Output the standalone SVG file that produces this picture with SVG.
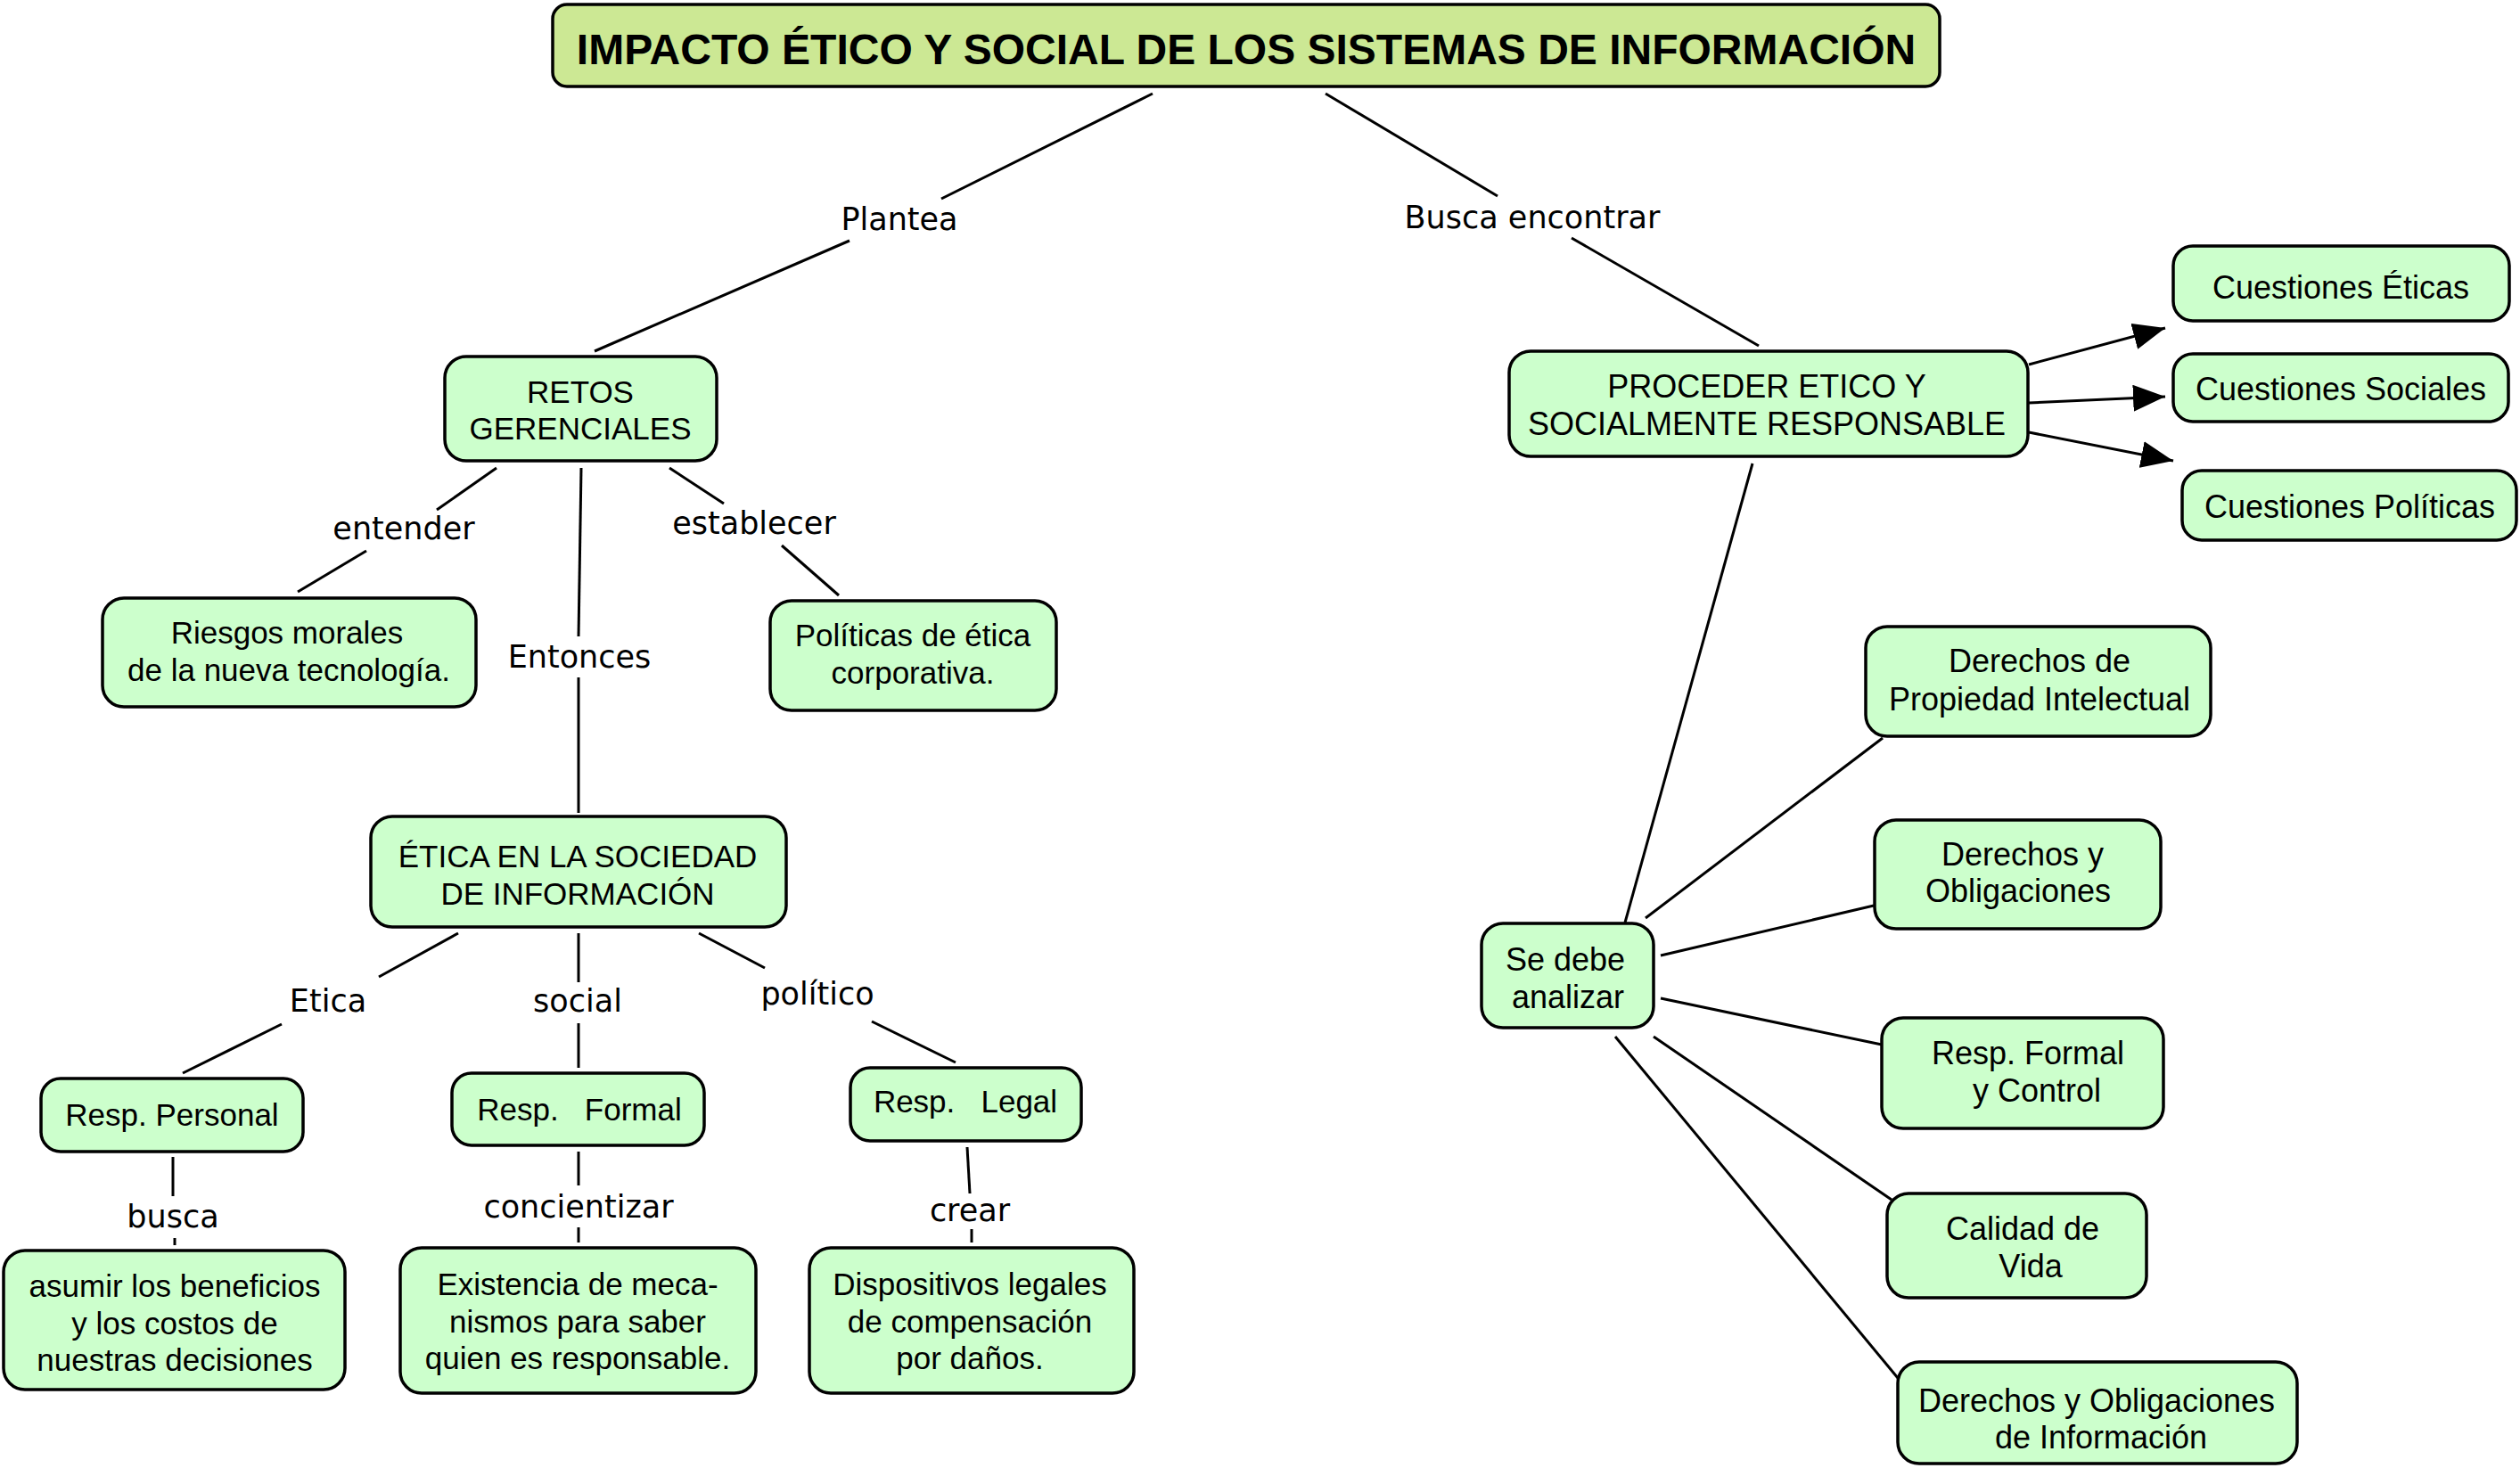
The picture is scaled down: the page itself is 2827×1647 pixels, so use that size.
<svg xmlns="http://www.w3.org/2000/svg" width="2827" height="1647" viewBox="0 0 2827 1647">
<defs>
<style>
.n rect{fill:#ccffcc;stroke:#000;stroke-width:3.5}
.t rect{fill:#cce894;stroke:#000;stroke-width:3.5}
.n text{font-family:"Liberation Sans",Arial,sans-serif;font-size:35px;fill:#000;text-anchor:middle}
.r text{font-size:36px}
.t text{font-family:"Liberation Sans",Arial,sans-serif;font-size:48px;font-weight:bold;fill:#000;text-anchor:middle}
.lbl{font-family:"DejaVu Sans",Verdana,sans-serif;font-size:35px;fill:#000;text-anchor:middle}
#connectors line{stroke:#000;stroke-width:3;fill:none}
</style>
<marker id="ahb" viewBox="0 0 36 30" refX="36" refY="15" markerWidth="36" markerHeight="30" markerUnits="userSpaceOnUse" orient="auto">
<path d="M0,0 L36,15 L0,30 Z" fill="#000"/>
</marker>
</defs>
<rect width="2827" height="1647" fill="#fff"/>
<g id="connectors">
<line x1="1293" y1="105" x2="1056" y2="223"/>
<line x1="953" y1="270" x2="667" y2="394"/>
<line x1="1487" y1="105" x2="1680" y2="220"/>
<line x1="1763" y1="267" x2="1973" y2="388"/>
<line x1="557" y1="525" x2="490" y2="572"/>
<line x1="411" y1="618" x2="334" y2="664"/>
<line x1="652" y1="525" x2="649" y2="714"/>
<line x1="649" y1="760" x2="649" y2="912"/>
<line x1="751" y1="525" x2="812" y2="565"/>
<line x1="877" y1="612" x2="941" y2="668"/>
<line x1="514" y1="1047" x2="425" y2="1096"/>
<line x1="316" y1="1149" x2="205" y2="1204"/>
<line x1="194" y1="1298" x2="194" y2="1342"/>
<line x1="196" y1="1389" x2="196" y2="1397"/>
<line x1="649" y1="1047" x2="649" y2="1102"/>
<line x1="649" y1="1148" x2="649" y2="1198"/>
<line x1="649" y1="1292" x2="649" y2="1330"/>
<line x1="649" y1="1377" x2="649" y2="1394"/>
<line x1="784" y1="1047" x2="858" y2="1086"/>
<line x1="978" y1="1146" x2="1072" y2="1192"/>
<line x1="1085" y1="1287" x2="1088" y2="1339"/>
<line x1="1090" y1="1379" x2="1090" y2="1394"/>
<line x1="2276" y1="409" x2="2429" y2="368" marker-end="url(#ahb)"/>
<line x1="2276" y1="452" x2="2429" y2="445" marker-end="url(#ahb)"/>
<line x1="2276" y1="485" x2="2438" y2="517" marker-end="url(#ahb)"/>
<line x1="1966" y1="520" x2="1823" y2="1035"/>
<line x1="1846" y1="1030" x2="2112" y2="828"/>
<line x1="1863" y1="1072" x2="2102" y2="1016"/>
<line x1="1863" y1="1120" x2="2111" y2="1172"/>
<line x1="1855" y1="1163" x2="2122" y2="1346"/>
<line x1="1812" y1="1163" x2="2129" y2="1546"/>
</g>
<g id="labels">
<text class="lbl" x="1009" y="258">Plantea</text>
<text class="lbl" x="1719" y="256">Busca encontrar</text>
<text class="lbl" x="453" y="605">entender</text>
<text class="lbl" x="650" y="749">Entonces</text>
<text class="lbl" x="846" y="599">establecer</text>
<text class="lbl" x="368" y="1135">Etica</text>
<text class="lbl" x="648" y="1135">social</text>
<text class="lbl" x="917" y="1127">político</text>
<text class="lbl" x="194" y="1377">busca</text>
<text class="lbl" x="649" y="1366">concientizar</text>
<text class="lbl" x="1088" y="1370">crear</text>
</g>
<g id="title" class="t">
<rect x="620" y="5" width="1556" height="92" rx="16"/>
<text x="1398" y="72">IMPACTO ÉTICO Y SOCIAL DE LOS SISTEMAS DE INFORMACIÓN</text>
</g>
<g id="retos" class="n">
<rect x="499" y="400" width="305" height="117" rx="24"/>
<text x="651" y="452">RETOS</text>
<text x="651" y="493">GERENCIALES</text>
</g>
<g id="riesgos" class="n">
<rect x="115" y="671" width="419" height="122" rx="24"/>
<text x="322" y="722">Riesgos morales</text>
<text x="324" y="764">de la nueva tecnología.</text>
</g>
<g id="politicas" class="n">
<rect x="864" y="674" width="321" height="123" rx="24"/>
<text x="1024" y="725">Políticas de ética</text>
<text x="1024" y="767">corporativa.</text>
</g>
<g id="etica-sociedad" class="n">
<rect x="416" y="916" width="466" height="124" rx="24"/>
<text x="648" y="973">ÉTICA EN LA SOCIEDAD</text>
<text x="648" y="1015">DE INFORMACIÓN</text>
</g>
<g id="resp-personal" class="n">
<rect x="46" y="1210" width="294" height="82" rx="22"/>
<text x="193" y="1263">Resp. Personal</text>
</g>
<g id="resp-formal" class="n">
<rect x="507" y="1204" width="283" height="81" rx="22"/>
<text x="650" y="1257" xml:space="preserve">Resp.   Formal</text>
</g>
<g id="resp-legal" class="n">
<rect x="954" y="1198" width="259" height="82" rx="22"/>
<text x="1083" y="1248" xml:space="preserve">Resp.   Legal</text>
</g>
<g id="asumir" class="n">
<rect x="4" y="1403" width="383" height="156" rx="24"/>
<text x="196" y="1455">asumir los beneficios</text>
<text x="196" y="1497">y los costos de</text>
<text x="196" y="1538">nuestras decisiones</text>
</g>
<g id="existencia" class="n">
<rect x="449" y="1400" width="399" height="163" rx="24"/>
<text x="648" y="1453">Existencia de meca-</text>
<text x="648" y="1495">nismos para saber</text>
<text x="648" y="1536">quien es responsable.</text>
</g>
<g id="dispositivos" class="n">
<rect x="908" y="1400" width="364" height="163" rx="24"/>
<text x="1088" y="1453">Dispositivos legales</text>
<text x="1088" y="1495">de compensación</text>
<text x="1088" y="1536">por daños.</text>
</g>
<g id="proceder" class="n r">
<rect x="1693" y="394" width="582" height="118" rx="24"/>
<text x="1982" y="446">PROCEDER ETICO Y</text>
<text x="1982" y="488">SOCIALMENTE RESPONSABLE</text>
</g>
<g id="cuestiones-eticas" class="n r">
<rect x="2438" y="276" width="377" height="84" rx="22"/>
<text x="2626" y="335">Cuestiones Éticas</text>
</g>
<g id="cuestiones-sociales" class="n r">
<rect x="2438" y="397" width="376" height="76" rx="22"/>
<text x="2626" y="449">Cuestiones Sociales</text>
</g>
<g id="cuestiones-politicas" class="n r">
<rect x="2448" y="528" width="375" height="78" rx="22"/>
<text x="2636" y="581">Cuestiones Políticas</text>
</g>
<g id="se-debe" class="n r">
<rect x="1662" y="1036" width="193" height="117" rx="24"/>
<text x="1756" y="1089">Se debe</text>
<text x="1759" y="1131">analizar</text>
</g>
<g id="derechos-pi" class="n r">
<rect x="2093" y="703" width="387" height="123" rx="24"/>
<text x="2288" y="754">Derechos de</text>
<text x="2288" y="797">Propiedad Intelectual</text>
</g>
<g id="derechos-obligaciones" class="n r">
<rect x="2103" y="920" width="321" height="122" rx="24"/>
<text x="2269" y="971">Derechos y</text>
<text x="2264" y="1012">Obligaciones</text>
</g>
<g id="resp-formal-control" class="n r">
<rect x="2111" y="1142" width="316" height="124" rx="24"/>
<text x="2275" y="1194">Resp. Formal</text>
<text x="2285" y="1236">y Control</text>
</g>
<g id="calidad-vida" class="n r">
<rect x="2117" y="1339" width="291" height="117" rx="24"/>
<text x="2269" y="1391">Calidad de</text>
<text x="2278" y="1433">Vida</text>
</g>
<g id="derechos-info" class="n r">
<rect x="2129" y="1528" width="448" height="114" rx="24"/>
<text x="2352" y="1584">Derechos y Obligaciones</text>
<text x="2357" y="1625">de Información</text>
</g>
</svg>
